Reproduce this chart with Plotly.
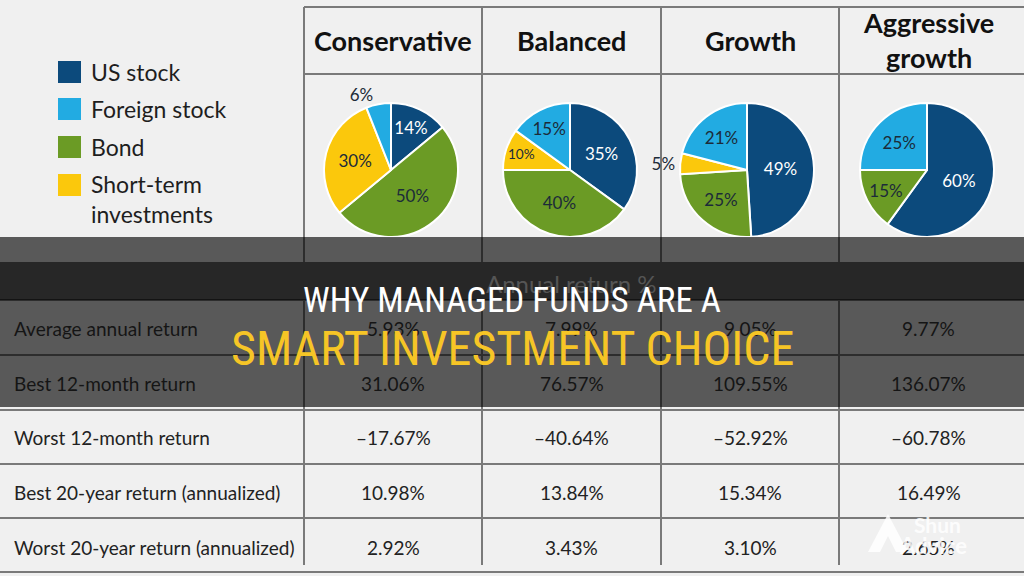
import plotly.graph_objects as go

# ---------------- data ----------------
categories = ["Conservative", "Balanced", "Growth", "Aggressive<br>growth"]
asset_classes = ["US stock", "Foreign stock", "Bond", "Short-term<br>investments"]
asset_colors = ["#0c4a7c", "#22abe2", "#6b9b25", "#fbc80c"]

us_stock = [14, 35, 49, 60]
foreign_stock = [6, 15, 21, 25]
bond = [50, 40, 25, 15]
short_term = [30, 10, 5, 0]

table_header = "Annual return %"
row_labels = [
    "Average annual return",
    "Best 12-month return",
    "Worst 12-month return",
    "Best 20-year return (annualized)",
    "Worst 20-year return (annualized)",
]
avg_annual = ["5.93%", "7.99%", "9.05%", "9.77%"]
best_12m = ["31.06%", "76.57%", "109.55%", "136.07%"]
worst_12m = ["–17.67%", "–40.64%", "–52.92%", "–60.78%"]
best_20y = ["10.98%", "13.84%", "15.34%", "16.49%"]
worst_20y = ["2.92%", "3.43%", "3.10%", "2.65%"]
table_rows = [avg_annual, best_12m, worst_12m, best_20y, worst_20y]

title_line1 = "WHY MANAGED FUNDS ARE A"
title_line2 = "SMART INVESTMENT CHOICE"

# ---------------- layout geometry (pixels) ----------------
W, H = 1024, 576
BG = "#f0f0f0"
LINE = "#7a7a7a"
TXT = "#1e1e1e"
FONT = "Lato, Noto Sans, sans-serif"
TITLE_FONT = "Liberation Sans Narrow, Roboto Condensed, Liberation Sans, sans-serif"

col_edges = [304, 482, 661, 839, 1018]
col_centers = [(col_edges[i] + col_edges[i + 1]) / 2 for i in range(4)]
pie_cx = [391, 570, 747, 927]
pie_cy, pie_r = 170, 67
row_centers = [328, 383, 437, 492, 547]
row_lines = [300, 355, 410, 464, 518, 572]

fig = go.Figure()

# invisible trace to establish pixel axes
fig.add_trace(go.Scatter(x=[0, W], y=[0, H], mode="markers",
                         marker=dict(opacity=0), hoverinfo="skip", showlegend=False))

# pie order clockwise from 12 o'clock: US stock, Bond, Short-term, Foreign stock
order = [0, 2, 3, 1]
series = [us_stock, foreign_stock, bond, short_term]
for i, cat in enumerate(categories):
    vals = [series[k][i] for k in order]
    labs = [asset_classes[k].replace("<br>", " ") for k in order]
    cols = [asset_colors[k] for k in order]
    text = [f"{v}%" if v > 0 else "" for v in vals]
    tpos = ["outside" if 0 < v <= 6 else "inside" for v in vals]
    tcol = ["#ffffff" if k == 0 else "#1c2b39" for k in order]
    cx = pie_cx[i]
    fig.add_trace(go.Pie(
        values=vals, labels=labs, text=text, textinfo="text",
        textposition=tpos, insidetextorientation="horizontal",
        textfont=dict(family=FONT, size=17, color=tcol),
        outsidetextfont=dict(family=FONT, size=17, color="#1c2b39"),
        marker=dict(colors=cols, line=dict(color="#ffffff", width=2)),
        sort=False, direction="clockwise", rotation=0,
        domain=dict(x=[(cx - pie_r) / W, (cx + pie_r) / W],
                    y=[1 - (pie_cy + pie_r) / H, 1 - (pie_cy - pie_r) / H]),
        showlegend=False, hoverinfo="label+percent",
    ))

shapes = []
ann = []


def hline(y, x0, x1, color=LINE, w=2):
    shapes.append(dict(type="line", xref="x", yref="y", x0=x0, x1=x1, y0=y, y1=y,
                       line=dict(color=color, width=w), layer="below"))


def vline(x, y0, y1, color=LINE, w=2):
    shapes.append(dict(type="line", xref="x", yref="y", x0=x, x1=x, y0=y0, y1=y1,
                       line=dict(color=color, width=w), layer="below"))


# table grid
hline(7, 304, W)
hline(74, 304, W)
for y in row_lines:
    hline(y, 0, W)
for x in col_edges[:4]:
    vline(x, 7, 262)
    vline(x, 300, 565)

# legend swatches + text
legend_y = [72, 109, 147, 185]
for k, name in enumerate(asset_classes):
    shapes.append(dict(type="rect", xref="x", yref="y", x0=58, x1=81,
                       y0=legend_y[k] - 11, y1=legend_y[k] + 11,
                       fillcolor=asset_colors[k], line=dict(width=0)))
    ann.append(dict(x=89, y=legend_y[k] + (14 if "<br>" in name else 0), xref="x", yref="y",
                    text=name, showarrow=False, xanchor="left", yanchor="middle", align="left",
                    font=dict(family=FONT, size=23, color=TXT)))

# column headers
for i, cat in enumerate(categories):
    ann.append(dict(x=col_centers[i], y=40, xref="x", yref="y", text=f"<b>{cat}</b>",
                    showarrow=False, xanchor="center", yanchor="middle",
                    font=dict(family=FONT, size=27, color="#111111")))

# overlay (darkening) rectangles
shapes.append(dict(type="rect", xref="x", yref="y", x0=0, x1=W, y0=237, y1=407,
                   fillcolor="rgba(0,0,0,0.63)", line=dict(width=0), layer="above"))
shapes.append(dict(type="rect", xref="x", yref="y", x0=0, x1=W, y0=262, y1=300,
                   fillcolor="rgba(0,0,0,0.56)", line=dict(width=0), layer="above"))

# table header row (under overlay -> dimmed color)
ann.append(dict(x=571, y=283, xref="x", yref="y", text=table_header, showarrow=False,
                font=dict(family=FONT, size=24, color="#555555")))

# table body
for r, (lab, vals) in enumerate(zip(row_labels, table_rows)):
    y = row_centers[r]
    dim = y < 407
    color = "#151515" if dim else "#222222"
    ann.append(dict(x=12, y=y, xref="x", yref="y", text=lab, showarrow=False,
                    xanchor="left", font=dict(family=FONT, size=19, color=color)))
    for c, v in enumerate(vals):
        ann.append(dict(x=col_centers[c], y=y, xref="x", yref="y", text=v, showarrow=False,
                        font=dict(family=FONT, size=19, color=color)))

# overlay title
ann.append(dict(x=512, y=300, xref="x", yref="y", text=title_line1, showarrow=False,
                font=dict(family=TITLE_FONT, size=35, color="#ffffff")))
ann.append(dict(x=512, y=348, xref="x", yref="y", text=title_line2, showarrow=False,
                font=dict(family=TITLE_FONT, size=48, color="#f6c526")))

# watermark
shapes.append(dict(type="path", xref="x", yref="y",
                   path="M 868 552 L 888 514 L 908 552 L 896 552 L 888 536 L 880 552 Z",
                   fillcolor="rgba(255,255,255,0.85)", line=dict(width=0), layer="above"))
ann.append(dict(x=912, y=524, xref="x", yref="y", text="<b>Shun</b>", showarrow=False,
                xanchor="left", font=dict(family=FONT, size=21, color="rgba(255,255,255,0.85)")))
ann.append(dict(x=897, y=545, xref="x", yref="y", text="<b>Advice</b>", showarrow=False,
                xanchor="left", font=dict(family=FONT, size=22, color="rgba(255,255,255,0.85)")))

fig.update_layout(
    width=W, height=H, margin=dict(l=0, r=0, t=0, b=0),
    paper_bgcolor=BG, plot_bgcolor=BG,
    xaxis=dict(range=[0, W], visible=False, fixedrange=True),
    yaxis=dict(range=[H, 0], visible=False, fixedrange=True),
    shapes=shapes, annotations=ann, showlegend=False,
)

fig.write_html("out.html")
